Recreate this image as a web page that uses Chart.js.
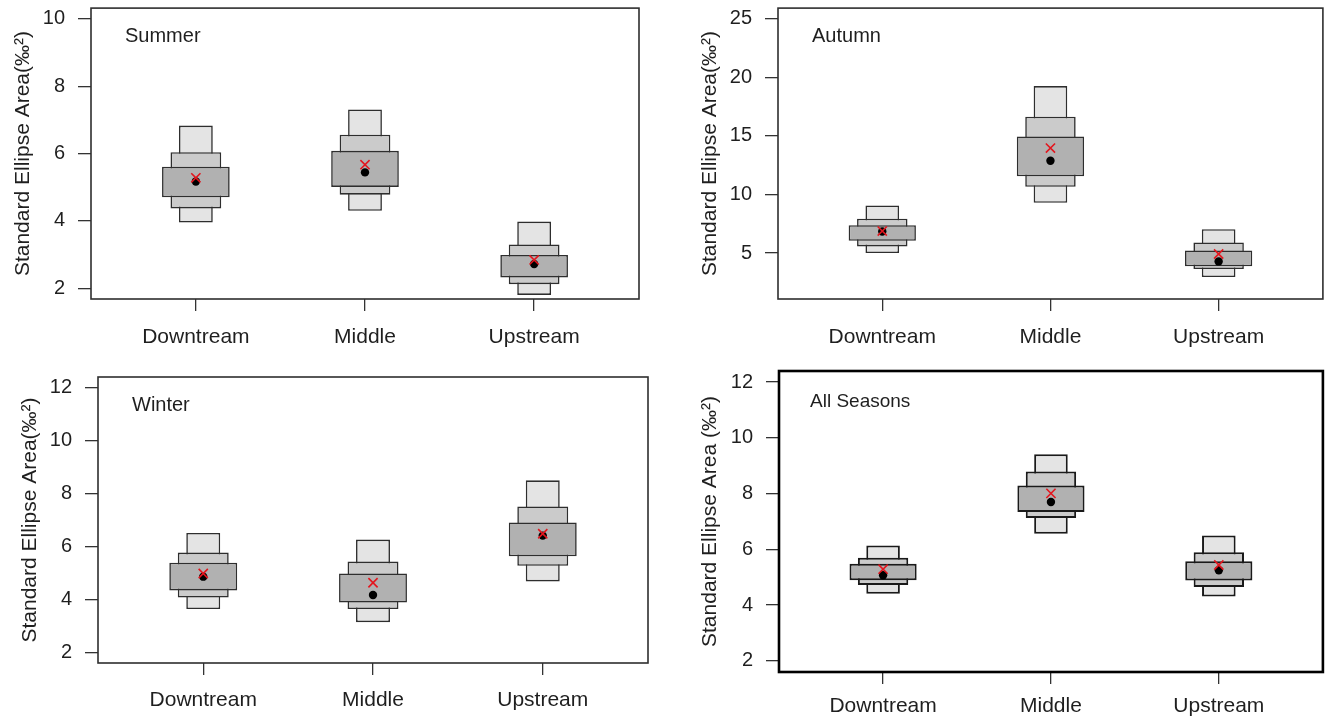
<!DOCTYPE html>
<html>
<head>
<meta charset="utf-8">
<title>Standard Ellipse Area by site and season</title>
<script src="https://cdn.jsdelivr.net/npm/chart.js@4/dist/chart.umd.min.js"></script>
<style>
  html, body { margin: 0; padding: 0; background: #ffffff; }
  body { width: 1331px; height: 717px; position: relative; overflow: hidden; }
  .panel { position: absolute; }
  .panel canvas { display: block; }
</style>
</head>
<body>
<div class="panel" style="left:0px;top:0px;"><canvas id="summer" width="665" height="358"></canvas></div>
<div class="panel" style="left:665px;top:0px;"><canvas id="autumn" width="666" height="358"></canvas></div>
<div class="panel" style="left:0px;top:358px;"><canvas id="winter" width="665" height="359"></canvas></div>
<div class="panel" style="left:665px;top:358px;"><canvas id="allSeasons" width="666" height="359"></canvas></div>

<script>
// Sites along the river (x axis)
const categories = ['Downtream', 'Middle', 'Upstream'];

// Summer: credible intervals [low, high] of SEA_B, mode and SEA_c
const summer95 = [[3.95, 6.83], [4.30, 7.31], [1.80, 3.98]];
const summer75 = [[4.37, 6.04], [4.78, 6.56], [2.12, 3.30]];
const summer50 = [[4.70, 5.61], [5.01, 6.08], [2.32, 2.99]];
const summerMode = [5.17, 5.44, 2.72];
const summerSEAc = [5.28, 5.67, 2.84];
const summerYTicks = [2, 4, 6, 8, 10];

// Autumn
const autumn95 = [[5.00, 9.07], [9.30, 19.26], [2.96, 7.04]];
const autumn75 = [[5.57, 7.94], [10.66, 16.65], [3.64, 5.91]];
const autumn50 = [[6.05, 7.38], [11.56, 14.96], [3.87, 5.23]];
const autumnMode = [6.84, 12.89, 4.29];
const autumnSEAc = [6.88, 13.97, 4.92];
const autumnYTicks = [5, 10, 15, 20, 25];

// Winter
const winter95 = [[3.64, 6.51], [3.14, 6.26], [4.68, 8.50]];
const winter75 = [[4.07, 5.77], [3.64, 5.43], [5.27, 7.51]];
const winter50 = [[4.34, 5.39], [3.88, 4.98], [5.63, 6.91]];
const winterMode = [4.86, 4.17, 6.41];
const winterSEAc = [4.98, 4.63, 6.48];
const winterYTicks = [2, 4, 6, 8, 10, 12];

// All seasons pooled
const all95 = [[4.41, 6.14], [6.56, 9.41], [4.31, 6.50]];
const all75 = [[4.72, 5.70], [7.13, 8.79], [4.65, 5.90]];
const all50 = [[4.89, 5.48], [7.34, 8.29], [4.88, 5.57]];
const allMode = [5.07, 7.70, 5.25];
const allSEAc = [5.29, 8.01, 5.44];
const allYTicks = [2, 4, 6, 8, 10, 12];

const FONT = "'Liberation Sans', Arial, Helvetica, sans-serif";
const INK = '#1f1f1f';
const BOX_COLORS = { p95: '#e4e4e4', p75: '#cbcbcb', p50: '#b1b1b1' };

// Frame around the plotting region plus the season label in its top-left corner
const panelDecor = {
  id: 'panelDecor',
  afterDatasetsDraw(chart, args, opts) {
    const { ctx, chartArea: a } = chart;
    ctx.save();
    ctx.lineWidth = opts.frameWidth;
    ctx.strokeStyle = opts.frameColor;
    ctx.strokeRect(a.left, a.top, a.right - a.left, a.bottom - a.top);
    ctx.fillStyle = INK;
    ctx.font = opts.fontSize + 'px ' + FONT;
    ctx.textBaseline = 'middle';
    ctx.textAlign = 'left';
    ctx.fillText(opts.text, a.left + opts.dx, a.top + opts.dy);
    ctx.restore();
  }
};

function intervalData(arr) {
  return arr.map((r, i) => ({ x: i + 1, y: r }));
}
function pointData(arr) {
  return arr.map((v, i) => ({ x: i + 1, y: v }));
}
// Tick labels may overhang the plot region; the frame geometry is fixed instead
function noOverhang(s) {
  s.paddingTop = 0; s.paddingBottom = 0; s.paddingLeft = 0; s.paddingRight = 0;
}

function makePanel(id, p) {
  const boxStyle = (label, arr, color, pct, order) => ({
    type: 'bar',
    label,
    data: intervalData(arr),
    backgroundColor: color,
    borderColor: p.boxBorder,
    borderWidth: p.boxBorderWidth,
    borderSkipped: false,
    grouped: false,
    categoryPercentage: 1,
    barPercentage: pct,
    order
  });
  new Chart(document.getElementById(id), {
    type: 'bar',
    data: {
      datasets: [
        {
          type: 'scatter',
          label: 'SEA_c',
          data: pointData(p.seac),
          pointStyle: 'crossRot',
          pointRadius: 6.5,
          borderColor: '#e3161e',
          pointBorderWidth: 1.6,
          backgroundColor: '#e3161e',
          order: 0
        },
        {
          type: 'scatter',
          label: 'Mode',
          data: pointData(p.mode),
          pointStyle: 'circle',
          pointRadius: 4.2,
          borderWidth: 0,
          backgroundColor: '#000000',
          borderColor: '#000000',
          order: 1
        },
        boxStyle('50%', p.b50, BOX_COLORS.p50, 0.4, 2),
        boxStyle('75%', p.b75, BOX_COLORS.p75, 0.3, 3),
        boxStyle('95%', p.b95, BOX_COLORS.p95, 0.2, 4)
      ]
    },
    options: {
      responsive: false,
      animation: false,
      events: [],
      layout: { padding: { left: 0, top: p.padTop, right: p.padRight, bottom: 0 } },
      plugins: {
        legend: { display: false },
        tooltip: { enabled: false },
        panelDecor: {
          text: p.title, dx: p.titleDx, dy: p.titleDy, fontSize: p.titleSize,
          frameWidth: p.frameWidth, frameColor: p.frameColor
        }
      },
      scales: {
        x: {
          type: 'linear',
          min: 0.38,
          max: 3.62,
          offset: false,
          bounds: 'data',
          grid: { offset: false, drawOnChartArea: false, drawTicks: true, tickLength: 12, color: '#333333', lineWidth: 1.3 },
          border: { display: false },
          afterBuildTicks: s => { s.ticks = categories.map((c, i) => ({ value: i + 1 })); },
          afterFit: s => { s.height = p.xHeight; noOverhang(s); },
          ticks: {
            autoSkip: false,
            maxRotation: 0,
            padding: p.xPad,
            color: INK,
            font: { family: FONT, size: 21 },
            callback: v => categories[Math.round(v) - 1]
          }
        },
        y: {
          type: 'linear',
          min: p.yMin,
          max: p.yMax,
          beginAtZero: false,
          bounds: 'data',
          grid: { drawOnChartArea: false, drawTicks: true, tickLength: 13, color: '#333333', lineWidth: 1.3 },
          border: { display: false },
          afterBuildTicks: s => { s.ticks = p.yTicks.map(v => ({ value: v })); },
          afterFit: s => { s.width = p.yWidth; noOverhang(s); },
          ticks: {
            padding: 13,
            color: INK,
            font: { family: FONT, size: 20 },
            callback: v => String(v)
          },
          title: {
            display: true,
            text: p.yTitle,
            color: INK,
            font: { family: FONT, size: 21 },
            padding: { top: p.yTitlePad, bottom: 0 }
          }
        }
      }
    },
    plugins: [panelDecor]
  });
}

makePanel('summer', {
  title: 'Summer', b95: summer95, b75: summer75, b50: summer50, mode: summerMode, seac: summerSEAc,
  yTicks: summerYTicks, yMin: 1.68, yMax: 10.32,
  yTitle: 'Standard Ellipse Area(‰²)',
  padTop: 8, padRight: 26, yWidth: 91, xHeight: 59, xPad: 14, yTitlePad: 11,
  titleDx: 34, titleDy: 28, titleSize: 20,
  boxBorder: '#2e2e2e', boxBorderWidth: 1.6, frameWidth: 1.6, frameColor: '#2e2e2e'
});

makePanel('autumn', {
  title: 'Autumn', b95: autumn95, b75: autumn75, b50: autumn50, mode: autumnMode, seac: autumnSEAc,
  yTicks: autumnYTicks, yMin: 1.08, yMax: 25.92,
  yTitle: 'Standard Ellipse Area(‰²)',
  padTop: 7, padRight: 5, yWidth: 113, xHeight: 59, xPad: 14, yTitlePad: 33,
  titleDx: 34, titleDy: 28, titleSize: 20,
  boxBorder: '#2e2e2e', boxBorderWidth: 1.6, frameWidth: 1.6, frameColor: '#2e2e2e'
});

makePanel('winter', {
  title: 'Winter', b95: winter95, b75: winter75, b50: winter50, mode: winterMode, seac: winterSEAc,
  yTicks: winterYTicks, yMin: 1.6, yMax: 12.4,
  yTitle: 'Standard Ellipse Area(‰²)',
  padTop: 19, padRight: 17, yWidth: 98, xHeight: 54, xPad: 13, yTitlePad: 18,
  titleDx: 34, titleDy: 28, titleSize: 20,
  boxBorder: '#2e2e2e', boxBorderWidth: 1.6, frameWidth: 1.6, frameColor: '#2e2e2e'
});

makePanel('allSeasons', {
  title: 'All Seasons', b95: all95, b75: all75, b50: all50, mode: allMode, seac: allSEAc,
  yTicks: allYTicks, yMin: 1.6, yMax: 12.4,
  yTitle: 'Standard Ellipse Area (‰²)',
  padTop: 13, padRight: 3, yWidth: 114, xHeight: 45, xPad: 10, yTitlePad: 33,
  titleDx: 31, titleDy: 31, titleSize: 19,
  boxBorder: '#1a1a1a', boxBorderWidth: 2, frameWidth: 2.6, frameColor: '#000000'
});
</script>
</body>
</html>
